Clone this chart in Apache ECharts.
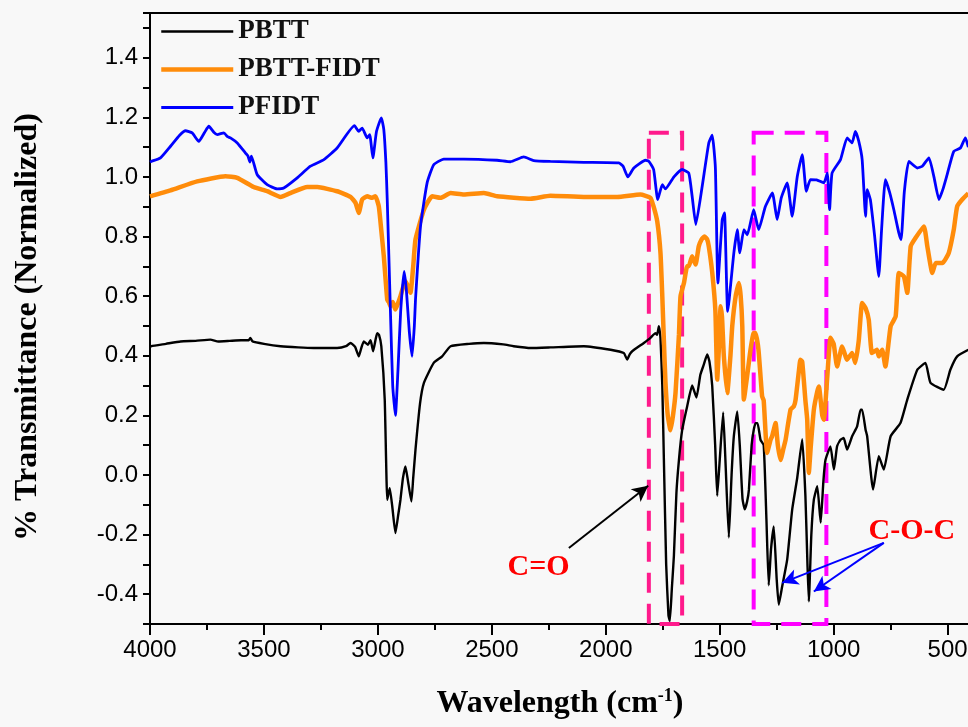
<!DOCTYPE html>
<html><head><meta charset="utf-8">
<script src="https://cdn.jsdelivr.net/npm/echarts/dist/echarts.min.js"></script>
<style>html,body{margin:0;padding:0;background:#f8f8f8;overflow:hidden}#c{width:968px;height:727px}</style>
</head><body><div id="c"></div>
<script>
// ---- data (wavenumber cm-1, normalized transmittance) ----
const seriesNames = ['PBTT', 'PBTT-FIDT', 'PFIDT'];
const xMajorTicks = [4000, 3500, 3000, 2500, 2000, 1500, 1000, 500];
const xMinorTicks = [3750, 3250, 2750, 2250, 1750, 1250, 750];

const pbtt = [[4000,0.43],[3995,0.432],[3930,0.44],[3866,0.448],[3800,0.45],[3735,0.454],[3700,0.448],[3650,0.45],[3600,0.452],[3566,0.452],[3560,0.46],[3550,0.448],[3500,0.44],[3427,0.432],[3350,0.428],[3281,0.426],[3179,0.426],[3140,0.432],[3120,0.443],[3100,0.43],[3084,0.398],[3075,0.42],[3062,0.448],[3044,0.437],[3032,0.452],[3021,0.415],[3010,0.455],[3003,0.476],[2995,0.47],[2985,0.432],[2970,0.253],[2959,-0.083],[2953,-0.06],[2948,-0.044],[2937,-0.105],[2923,-0.195],[2910,-0.13],[2901,-0.083],[2890,-0.01],[2879,0.029],[2868,-0.02],[2853,-0.089],[2845,-0.01],[2835,0.085],[2815,0.24],[2798,0.309],[2755,0.376],[2718,0.398],[2681,0.432],[2600,0.44],[2535,0.443],[2450,0.438],[2404,0.432],[2330,0.426],[2243,0.428],[2096,0.432],[1979,0.42],[1921,0.409],[1906,0.387],[1895,0.405],[1884,0.415],[1833,0.443],[1804,0.46],[1782,0.476],[1775,0.47],[1767,0.499],[1760,0.46],[1752,0.3],[1745,0.05],[1735,-0.3],[1725,-0.47],[1719,-0.49],[1710,-0.38],[1701,-0.27],[1690,-0.06],[1679,0.05],[1665,0.15],[1643,0.23],[1621,0.3],[1602,0.26],[1585,0.336],[1570,0.37],[1555,0.404],[1545,0.38],[1533,0.3],[1520,0.1],[1511,-0.07],[1500,0.05],[1485,0.21],[1475,0.05],[1460,-0.21],[1448,0.0],[1438,0.13],[1423,0.213],[1412,0.1],[1400,-0.08],[1390,-0.115],[1380,-0.09],[1372,-0.05],[1360,0.1],[1351,0.15],[1343,0.174],[1334,0.174],[1321,0.118],[1307,0.1],[1295,-0.15],[1285,-0.37],[1275,-0.25],[1263,-0.173],[1250,-0.35],[1241,-0.435],[1226,-0.374],[1204,-0.284],[1182,-0.116],[1160,-0.01],[1138,0.12],[1124,-0.07],[1115,-0.3],[1109,-0.424],[1098,-0.2],[1087,-0.083],[1072,-0.038],[1057,-0.16],[1045,-0.02],[1036,0.05],[1014,0.096],[999,0.018],[985,0.096],[970,0.118],[956,0.124],[941,0.085],[919,0.13],[897,0.163],[882,0.219],[875,0.219],[860,0.152],[853,0.13],[827,-0.049],[802,0.063],[780,0.018],[750,0.13],[707,0.174],[677,0.253],[633,0.353],[597,0.376],[575,0.309],[517,0.286],[488,0.353],[458,0.398],[409,0.42]];

const pbttFidt = [[4000,0.935],[3910,0.955],[3793,0.985],[3669,1.002],[3617,0.997],[3545,0.966],[3486,0.952],[3427,0.933],[3384,0.946],[3310,0.966],[3266,0.966],[3179,0.952],[3120,0.933],[3098,0.913],[3084,0.879],[3069,0.924],[3047,0.935],[3025,0.93],[3011,0.935],[2996,0.901],[2985,0.82],[2974,0.734],[2959,0.588],[2952,0.58],[2945,0.566],[2935,0.58],[2923,0.555],[2910,0.58],[2901,0.6],[2879,0.65],[2866,0.63],[2857,0.611],[2845,0.7],[2835,0.79],[2798,0.89],[2762,0.935],[2725,0.93],[2681,0.946],[2623,0.941],[2535,0.946],[2477,0.935],[2330,0.927],[2243,0.937],[2096,0.933],[1950,0.933],[1848,0.941],[1804,0.93],[1790,0.9],[1774,0.85],[1760,0.745],[1752,0.6],[1745,0.45],[1738,0.31],[1728,0.2],[1716,0.15],[1705,0.2],[1694,0.275],[1679,0.47],[1672,0.6],[1657,0.644],[1643,0.7],[1636,0.7],[1621,0.734],[1606,0.706],[1592,0.767],[1580,0.79],[1567,0.8],[1555,0.79],[1548,0.767],[1533,0.68],[1519,0.55],[1511,0.32],[1504,0.42],[1496,0.566],[1490,0.53],[1482,0.4],[1467,0.275],[1453,0.4],[1445,0.5],[1430,0.6],[1416,0.644],[1408,0.6],[1401,0.5],[1394,0.253],[1380,0.33],[1365,0.42],[1351,0.476],[1343,0.476],[1330,0.42],[1314,0.264],[1307,0.25],[1292,0.074],[1277,0.118],[1270,0.13],[1255,0.174],[1245,0.1],[1233,0.05],[1220,0.09],[1211,0.118],[1189,0.22],[1175,0.23],[1167,0.253],[1152,0.353],[1146,0.387],[1138,0.38],[1124,0.25],[1116,0.185],[1109,0.007],[1100,0.1],[1087,0.219],[1072,0.28],[1065,0.297],[1050,0.2],[1043,0.185],[1028,0.33],[1014,0.46],[1000,0.44],[985,0.364],[963,0.431],[941,0.387],[919,0.409],[905,0.376],[890,0.45],[875,0.577],[860,0.56],[846,0.521],[832,0.409],[810,0.42],[802,0.398],[787,0.42],[773,0.364],[750,0.499],[728,0.532],[714,0.678],[692,0.666],[677,0.611],[662,0.767],[641,0.795],[604,0.834],[589,0.767],[567,0.678],[552,0.711],[523,0.711],[495,0.745],[473,0.823],[458,0.901],[436,0.924],[409,0.945]];

const pfidt = [[4000,1.05],[3995,1.052],[3954,1.064],[3910,1.103],[3870,1.14],[3844,1.155],[3815,1.148],[3786,1.119],[3760,1.15],[3742,1.17],[3720,1.15],[3705,1.142],[3676,1.148],[3660,1.135],[3647,1.131],[3617,1.114],[3581,1.08],[3570,1.07],[3562,1.05],[3555,1.07],[3530,1.008],[3486,0.974],[3442,0.96],[3413,0.963],[3354,0.997],[3296,1.036],[3237,1.058],[3179,1.097],[3103,1.172],[3084,1.153],[3069,1.164],[3047,1.131],[3036,1.142],[3022,1.064],[3006,1.153],[2985,1.198],[2974,1.159],[2965,1.05],[2959,0.924],[2945,0.55],[2935,0.3],[2923,0.2],[2912,0.35],[2900,0.55],[2885,0.683],[2875,0.62],[2862,0.48],[2850,0.398],[2840,0.5],[2835,0.588],[2813,0.834],[2784,0.98],[2755,1.041],[2711,1.06],[2623,1.06],[2477,1.056],[2418,1.051],[2360,1.067],[2316,1.055],[2243,1.052],[2096,1.049],[1943,1.047],[1924,1.036],[1903,1.0],[1877,1.03],[1826,1.056],[1811,1.052],[1790,1.025],[1772,0.924],[1752,0.974],[1738,0.96],[1701,1.0],[1665,1.025],[1636,1.013],[1621,0.935],[1605,0.84],[1577,0.968],[1548,1.114],[1533,1.14],[1519,1.03],[1508,0.644],[1489,0.857],[1479,0.879],[1465,0.549],[1438,0.745],[1423,0.823],[1412,0.745],[1394,0.823],[1379,0.806],[1351,0.89],[1329,0.823],[1300,0.9],[1269,0.946],[1248,0.857],[1230,0.93],[1204,0.98],[1182,0.868],[1160,1.0],[1138,1.075],[1120,0.952],[1102,0.991],[1075,0.99],[1043,0.98],[1028,1.013],[1018,0.89],[1007,1.013],[970,1.058],[941,1.131],[919,1.114],[905,1.153],[890,1.12],[875,1.058],[860,0.868],[853,0.957],[839,0.924],[820,0.8],[802,0.666],[790,0.82],[773,0.991],[755,0.95],[736,0.89],[714,0.812],[704,0.79],[690,0.95],[670,1.052],[633,1.03],[611,1.036],[582,1.064],[560,1.0],[538,0.924],[520,0.96],[502,1.008],[473,1.086],[444,1.097],[422,1.131],[409,1.1]];

// annotation anchors (data coordinates)
const boxCO = [[1811, 1.148], [1665, -0.5]];
const boxCOC = [[1351, 1.148], [1032, -0.5]];
const arrowCO = [[2162, -0.245], [1814, -0.036]];
const arrowCOC1 = [[780, -0.228], [1226, -0.362]];
const arrowCOC2 = [[780, -0.228], [1087, -0.391]];
const labelCO = [2431, -0.308];
const labelCOC = [847, -0.189];

const chart = echarts.init(document.getElementById('c'), null, {renderer: 'canvas'});
const serif = "'Liberation Serif', 'Times New Roman', serif";
const sans = "'Liberation Sans', Arial, sans-serif";
const axisLineStyle = {color: '#000', width: 2};

chart.setOption({
  animation: false,
  backgroundColor: '#f8f8f8',
  grid: {left: 150, top: 13, width: 820.4, height: 611, show: true, borderColor: '#000', borderWidth: 2,
         backgroundColor: 'transparent', containLabel: false, outerBoundsMode: 'none'},
  legend: {
    orient: 'vertical', left: 154, top: 13, itemWidth: 72, itemHeight: 22, itemGap: 11,
    itemStyle: {opacity: 0},
    data: [
      {name: 'PBTT', lineStyle: {width: 2.4}},
      {name: 'PBTT-FIDT', lineStyle: {width: 4.5}},
      {name: 'PFIDT', lineStyle: {width: 2.8}}
    ],
    textStyle: {fontFamily: serif, fontWeight: 'bold', fontSize: 27, color: '#111', padding: [0, 0, 0, 0]}
  },
  xAxis: [{
    type: 'value', min: 400, max: 4000, inverse: true,
    axisLine: {show: true, onZero: false, lineStyle: axisLineStyle},
    axisTick: {show: true, length: 11, lineStyle: axisLineStyle, customValues: xMajorTicks},
    splitLine: {show: false},
    axisLabel: {fontFamily: sans, fontSize: 24, color: '#000', margin: 14, customValues: xMajorTicks,
                formatter: function (v) { return String(v); }}
  }, {
    type: 'value', min: 400, max: 4000, inverse: true, position: 'bottom',
    axisLine: {show: false, onZero: false},
    axisTick: {show: true, length: 6, lineStyle: axisLineStyle, customValues: xMinorTicks},
    axisLabel: {show: false},
    splitLine: {show: false}
  }],
  yAxis: {
    type: 'value', min: -0.5, max: 1.55, interval: 0.1,
    axisLine: {show: true, onZero: false, lineStyle: axisLineStyle},
    axisTick: {show: true, length: 7, lineStyle: axisLineStyle},
    splitLine: {show: false},
    axisLabel: {
      fontFamily: sans, fontSize: 24, color: '#000', margin: 12,
      formatter: function (v) {
        const k = Math.round(v * 10);
        if (Math.abs(v * 10 - k) > 1e-6 || k % 2 !== 0) return '';
        return (k / 10).toFixed(1);
      }
    }
  },
  graphic: [
    {type: 'text', x: 28, y: 327, rotation: Math.PI / 2,
     style: {text: '% Transmittance (Normalized)', font: "bold 32px " + serif, fill: '#000', align: 'center', verticalAlign: 'middle'}},
    {type: 'text', x: 560, y: 704,
     style: {text: '{a|Wavelength (cm}{s|-1}{a|)}', align: 'center', verticalAlign: 'middle',
       rich: {a: {font: "bold 32px " + serif, fill: '#000', lineHeight: 34},
              s: {font: "bold 18px " + serif, fill: '#000', verticalAlign: 'top', lineHeight: 34}}}}
  ],
  series: [
    {name: 'PBTT', type: 'line', data: pbtt, showSymbol: false, symbol: 'none', smooth: 0.15,
     lineStyle: {color: '#000', width: 2.4}, itemStyle: {color: '#000'}, z: 2},
    {name: 'PBTT-FIDT', type: 'line', data: pbttFidt, showSymbol: false, symbol: 'none', smooth: 0.15,
     lineStyle: {color: '#ff8c0a', width: 4.5}, itemStyle: {color: '#ff8c0a'}, z: 3},
    {name: 'PFIDT', type: 'line', data: pfidt, showSymbol: false, symbol: 'none', smooth: 0.15,
     lineStyle: {color: '#0000ff', width: 2.8}, itemStyle: {color: '#0000ff'}, z: 4},
    {name: 'annot', type: 'line', data: [], z: 10, silent: true,
     markArea: {
       silent: true,
       itemStyle: {color: 'rgba(0,0,0,0)', borderWidth: 4, borderType: [20, 11]},
       data: [
         [{coord: boxCO[0], itemStyle: {borderColor: '#ff1a8c'}}, {coord: boxCO[1]}],
         [{coord: boxCOC[0], itemStyle: {borderColor: '#ff00ff'}}, {coord: boxCOC[1]}]
       ]
     },
     markLine: {
       silent: true, symbol: ['none', 'arrow'], symbolSize: [12, 16], label: {show: false},
       data: [
         [{coord: arrowCO[0], lineStyle: {color: '#000', width: 2, type: 'solid'}}, {coord: arrowCO[1]}],
         [{coord: arrowCOC1[0], lineStyle: {color: '#0000ff', width: 2, type: 'solid'}}, {coord: arrowCOC1[1]}],
         [{coord: arrowCOC2[0], lineStyle: {color: '#0000ff', width: 2, type: 'solid'}}, {coord: arrowCOC2[1]}]
       ]
     },
     markPoint: {
       silent: true, symbol: 'circle', symbolSize: 0,
       label: {show: true, position: 'right', distance: 0, color: '#ff0000', fontFamily: serif, fontWeight: 'bold', fontSize: 30},
       data: [
         {coord: labelCO, label: {formatter: 'C=O'}},
         {coord: labelCOC, label: {formatter: 'C-O-C'}}
       ]
     }
    }
  ]
});
</script>
</body></html>
